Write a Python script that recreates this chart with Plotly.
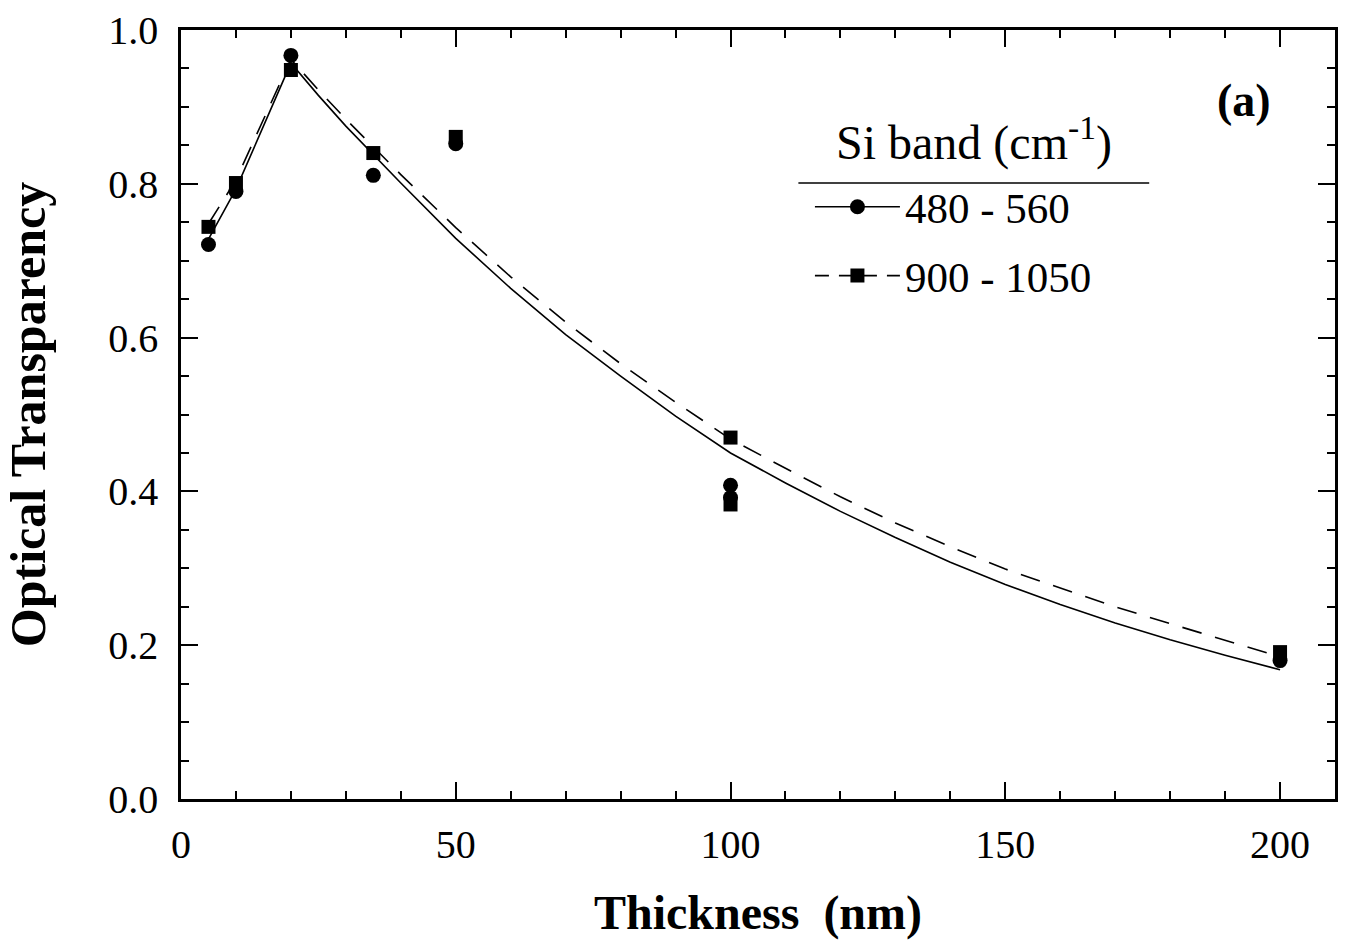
import plotly.graph_objects as go

# Measured data points
thick_480 = [5, 10, 20, 35, 50, 100, 100, 200]
trans_480 = [0.721, 0.790, 0.967, 0.811, 0.852, 0.408, 0.392, 0.180]

thick_900 = [5, 10, 20, 35, 50, 100, 100, 200]
trans_900 = [0.744, 0.801, 0.948, 0.840, 0.861, 0.470, 0.383, 0.191]

# Guide / fit curves
curve_x_480 = [5, 10, 20, 25, 30, 35, 40, 50, 60, 70, 80, 90, 100, 110, 120, 130, 140, 150, 160, 170, 180, 190, 200]
curve_y_480 = [0.728, 0.793, 0.957, 0.915, 0.875, 0.838, 0.801, 0.729, 0.664, 0.604, 0.550, 0.498, 0.450,
               0.411, 0.374, 0.340, 0.308, 0.279, 0.253, 0.229, 0.207, 0.187, 0.168]

curve_x_900 = [5, 10, 20, 25, 30, 35, 40, 50, 60, 70, 80, 90, 100, 110, 120, 130, 140, 150, 160, 170, 180, 190, 200]
curve_y_900 = [0.748, 0.805, 0.962, 0.922, 0.884, 0.848, 0.812, 0.743, 0.679, 0.620, 0.566, 0.516, 0.468,
               0.430, 0.393, 0.359, 0.328, 0.299, 0.274, 0.250, 0.228, 0.206, 0.185]

series_names = ["480 - 560", "900 - 1050"]
legend_title = "Si band (cm<sup>-1</sup>)"

FONT = "Liberation Serif"
BLACK = "black"

fig = go.Figure()

# fit curves
fig.add_trace(go.Scatter(x=curve_x_480, y=curve_y_480, mode="lines", showlegend=False,
                         line=dict(color=BLACK, width=1.6),
                         hoverinfo="skip"))
fig.add_trace(go.Scatter(x=curve_x_900, y=curve_y_900, mode="lines", showlegend=False,
                         line=dict(color=BLACK, width=1.6, dash="20px,14px"),
                         hoverinfo="skip"))

# data markers
fig.add_trace(go.Scatter(x=thick_480, y=trans_480, mode="markers", showlegend=False,
                         marker=dict(symbol="circle", size=15, color=BLACK)))
fig.add_trace(go.Scatter(x=thick_900, y=trans_900, mode="markers", showlegend=False,
                         marker=dict(symbol="square", size=14, color=BLACK)))

# legend proxies
fig.add_trace(go.Scatter(x=[None], y=[None], mode="lines+markers", name=series_names[0],
                         legendgroup="a",
                         line=dict(color=BLACK, width=1.6),
                         marker=dict(symbol="circle", size=15, color=BLACK)))
fig.add_trace(go.Scatter(x=[None], y=[None], mode="lines+markers", name=series_names[1],
                         legendgroup="b",
                         line=dict(color=BLACK, width=1.6, dash="14px,10px"),
                         marker=dict(symbol="square", size=14, color=BLACK)))

axis_common = dict(
    showline=True, linecolor=BLACK, linewidth=2.5, mirror="allticks",
    ticks="inside", tickcolor=BLACK, tickwidth=1.5, ticklen=17,
    showgrid=False, zeroline=False,
    tickfont=dict(family=FONT, size=40, color=BLACK),
)

fig.update_layout(
    width=1346, height=947,
    margin=dict(l=181, r=8, t=29, b=148),
    paper_bgcolor="white", plot_bgcolor="white",
    font=dict(family=FONT, color=BLACK),
    xaxis=dict(range=[0, 210], tickvals=[0, 50, 100, 150, 200],
               minor=dict(dtick=10, ticklen=8, ticks="inside", tickcolor=BLACK, tickwidth=1.5, showgrid=False),
               title=dict(text="<b>Thickness  (nm)</b>", font=dict(family=FONT, size=48, color=BLACK), standoff=30),
               ticklabelstandoff=8,
               **axis_common),
    yaxis=dict(range=[0, 1.0], tickvals=[0, 0.2, 0.4, 0.6, 0.8, 1.0], tickformat=".1f",
               minor=dict(dtick=0.05, ticklen=8, ticks="inside", tickcolor=BLACK, tickwidth=1.5, showgrid=False),
               title=dict(text="<b>Optical Transparency</b>", font=dict(family=FONT, size=50, color=BLACK), standoff=50),
               ticklabelstandoff=12,
               **axis_common),
    legend=dict(x=0.545, y=0.815, xanchor="left", yanchor="top",
                font=dict(family=FONT, size=43, color=BLACK),
                itemwidth=85, tracegroupgap=10, bgcolor="rgba(0,0,0,0)"),
    annotations=[
        dict(text="<b>(a)</b>", x=0.921, y=0.908, xref="paper", yref="paper",
             xanchor="center", yanchor="middle",
             showarrow=False, font=dict(family=FONT, size=46, color=BLACK)),
        dict(text=legend_title, x=0.687, y=0.858, xref="paper", yref="paper",
             xanchor="center", yanchor="middle",
             showarrow=False, font=dict(family=FONT, size=48, color=BLACK)),
    ],
    shapes=[dict(type="line", xref="paper", yref="paper", x0=0.535, x1=0.839, y0=0.801, y1=0.801,
                 line=dict(color=BLACK, width=1.5))],
)

fig.write_html("out.html")
